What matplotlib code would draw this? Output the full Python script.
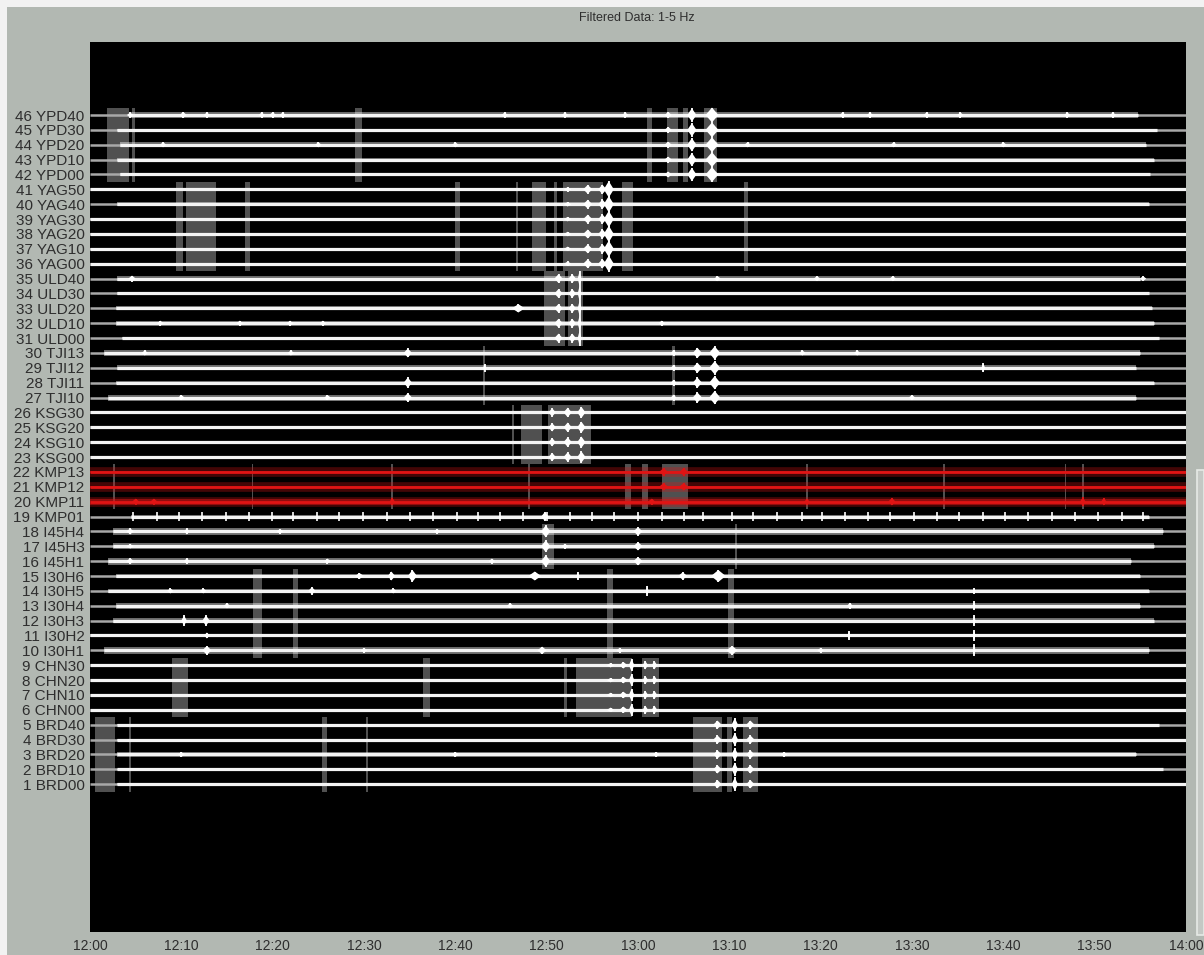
import matplotlib
matplotlib.use("Agg")
import matplotlib.pyplot as plt
from matplotlib.patches import Rectangle

plt.rcParams['font.family'] = ['Liberation Sans', 'DejaVu Sans']

# ---- station channels, numbered 1..46 from the bottom ----
station_names = [
    'BRD00', 'BRD10', 'BRD20', 'BRD30', 'BRD40',
    'CHN00', 'CHN10', 'CHN20', 'CHN30',
    'I30H1', 'I30H2', 'I30H3', 'I30H4', 'I30H5', 'I30H6',
    'I45H1', 'I45H3', 'I45H4',
    'KMP01', 'KMP11', 'KMP12', 'KMP13',
    'KSG00', 'KSG10', 'KSG20', 'KSG30',
    'TJI10', 'TJI11', 'TJI12', 'TJI13',
    'ULD00', 'ULD10', 'ULD20', 'ULD30', 'ULD40',
    'YAG00', 'YAG10', 'YAG20', 'YAG30', 'YAG40', 'YAG50',
    'YPD00', 'YPD10', 'YPD20', 'YPD30', 'YPD40',
]

# data availability window per channel (minutes after 12:00)
trace_start = [3.0, 3.0, 3.0, 3.0, 3.0,
               0.0, 0.0, 0.0, 0.0,
               1.5, 0.0, 2.5, 2.8, 2.0, 2.9,
               2.0, 2.5, 2.5,
               4.5, 0.0, 0.0, 0.0,
               0.0, 0.0, 0.0, 0.0,
               2.0, 2.8, 3.0, 1.5,
               3.5, 2.8, 2.9, 3.0, 3.0,
               0.0, 0.0, 0.0, 0.0, 3.0, 0.0,
               3.3, 3.0, 3.3, 3.0, 4.4]
trace_end = [120.0, 117.5, 114.5, 120.0, 117.0,
             120.0, 120.0, 120.0, 120.0,
             116.0, 120.0, 116.5, 115.0, 116.0, 115.0,
             114.0, 116.5, 117.5,
             116.0, 120.0, 120.0, 120.0,
             120.0, 120.0, 120.0, 120.0,
             114.5, 116.5, 114.5, 115.0,
             117.0, 116.5, 116.3, 116.0, 115.0,
             120.0, 120.0, 120.0, 120.0, 116.0, 120.0,
             116.1, 116.5, 115.6, 116.8, 114.7]

# background noise envelope (half-width, in trace spacings)
noise_width = [0.05, 0.05, 0.15, 0.07, 0.05,
               0.0, 0.0, 0.0, 0.0,
               0.22, 0.07, 0.17, 0.19, 0.12, 0.15,
               0.24, 0.20, 0.23,
               0.13, 0.20, 0.06, 0.06,
               0.0, 0.0, 0.0, 0.0,
               0.20, 0.12, 0.17, 0.22,
               0.09, 0.18, 0.13, 0.10, 0.17,
               0.0, 0.05, 0.05, 0.05, 0.13, 0.0,
               0.09, 0.12, 0.17, 0.07, 0.23]

red_traces = [20, 21, 22]

# station arrays: (lowest channel, highest channel)
station_groups = {
    'BRD': (1, 5), 'CHN': (6, 9), 'I30': (10, 15), 'I45': (16, 18),
    'KMP': (20, 22), 'KSG': (23, 26), 'TJI': (27, 30), 'ULD': (31, 35),
    'YAG': (36, 41), 'YPD': (42, 46),
}

# highlighted time windows per array (start, end) in minutes
gap_windows = {
    'YPD': [(1.9, 4.3), (4.6, 4.9), (29.0, 29.8), (61.0, 61.5), (63.2, 64.4),
            (64.9, 65.5), (67.2, 68.6)],
    'YAG': [(9.4, 10.2), (10.5, 13.8), (17.0, 17.5), (40.0, 40.5), (46.6, 46.9),
            (48.4, 49.9), (50.8, 51.1), (51.8, 56.2), (58.3, 59.5), (71.6, 72.0)],
    'ULD': [(49.7, 52.0), (52.3, 54.0)],
    'TJI': [(43.0, 43.3), (63.7, 64.0)],
    'KSG': [(46.2, 46.4), (47.2, 49.5), (50.1, 54.9)],
    'KMP': [(2.5, 2.7), (17.7, 17.9), (33.0, 33.2), (48.0, 48.2), (58.6, 59.2),
            (60.4, 61.1), (62.6, 65.5), (78.4, 78.6), (93.4, 93.6),
            (106.7, 106.9), (108.6, 108.8)],
    'I45': [(49.5, 50.8), (70.6, 70.8)],
    'I30': [(17.9, 18.8), (22.2, 22.8), (56.6, 57.3), (69.9, 70.5)],
    'CHN': [(9.0, 10.7), (36.5, 37.2), (51.9, 52.2), (53.2, 59.3), (60.4, 62.3)],
    'BRD': [(0.5, 2.7), (4.3, 4.5), (25.4, 26.0), (30.2, 30.4), (66.0, 69.2),
            (69.7, 70.3), (71.5, 73.1)],
}

# arrivals seen on every channel of an array: (minute, amplitude, half-duration)
group_arrivals = {
    'YPD': [(63.3, 0.20, 0.4), (65.9, 0.45, 0.5), (68.1, 0.50, 0.7)],
    'YAG': [(52.3, 0.15, 0.4), (54.5, 0.30, 0.5), (56.1, 0.32, 0.45), (56.8, 0.55, 0.55)],
    'ULD': [(51.3, 0.30, 0.45), (52.8, 0.30, 0.4), (53.6, 0.50, 0.2)],
    'TJI': [(63.9, 0.20, 0.3), (66.5, 0.35, 0.5), (68.4, 0.45, 0.6)],
    'KSG': [(50.6, 0.28, 0.4), (52.3, 0.32, 0.45), (53.8, 0.38, 0.45)],
    'I45': [(49.9, 0.40, 0.5), (60.0, 0.28, 0.5)],
    'CHN': [(57.0, 0.15, 0.4), (58.4, 0.22, 0.45), (59.3, 0.42, 0.3),
            (60.8, 0.28, 0.3), (61.8, 0.28, 0.3)],
    'BRD': [(68.7, 0.28, 0.45), (70.6, 0.45, 0.35), (72.3, 0.28, 0.45)],
}

# single-channel transients: (channel, minute, amplitude, half-duration)
trace_arrivals = [
    (46, 10.2, 0.20, 0.4), (46, 20.0, 0.18, 0.4),
    (35, 4.6, 0.20, 0.4), (33, 46.9, 0.28, 0.7),
    (30, 34.8, 0.30, 0.45), (28, 34.8, 0.35, 0.45), (27, 34.8, 0.30, 0.45),
    (29, 43.2, 0.25, 0.15), (29, 97.8, 0.30, 0.2),
    (22, 62.8, 0.25, 0.5), (22, 65.0, 0.25, 0.5),
    (21, 62.8, 0.25, 0.5), (21, 65.0, 0.25, 0.5),
    (20, 5.0, 0.20, 0.4), (20, 7.0, 0.20, 0.4), (20, 33.1, 0.25, 0.3),
    (20, 61.5, 0.20, 0.4), (20, 78.5, 0.20, 0.3), (20, 87.8, 0.25, 0.4),
    (20, 108.7, 0.30, 0.3), (20, 111.0, 0.25, 0.3),
    (19, 49.8, 0.30, 0.4),
    (18, 4.4, 0.20, 0.4), (18, 10.6, 0.20, 0.3), (17, 4.4, 0.15, 0.4),
    (16, 4.4, 0.20, 0.4), (16, 10.6, 0.20, 0.3),
    (15, 29.5, 0.20, 0.5), (15, 33.0, 0.30, 0.4), (15, 35.3, 0.40, 0.5),
    (15, 48.7, 0.30, 0.7), (15, 53.4, 0.25, 0.15), (15, 64.9, 0.25, 0.5),
    (15, 68.8, 0.40, 0.8),
    (14, 24.3, 0.25, 0.4), (14, 61.0, 0.35, 0.15), (14, 96.8, 0.20, 0.15),
    (13, 96.8, 0.30, 0.15), (13, 83.2, 0.20, 0.3),
    (12, 10.3, 0.35, 0.3), (12, 12.7, 0.35, 0.4), (12, 96.8, 0.35, 0.15),
    (11, 12.8, 0.20, 0.3), (11, 83.1, 0.30, 0.15), (11, 96.8, 0.35, 0.15),
    (10, 12.8, 0.30, 0.5), (10, 49.5, 0.25, 0.5), (10, 70.3, 0.30, 0.6),
    (10, 96.8, 0.40, 0.15),
]

# small bursts within the background noise: (channel, minute)
noise_bursts = [
    (46, 4.4), (46, 12.8), (46, 18.8), (46, 21.1), (46, 45.4), (46, 52.0),
    (46, 58.6), (46, 82.4), (46, 85.4), (46, 91.6), (46, 95.3), (46, 107.0),
    (46, 112.0),
    (44, 8.0), (44, 25.0), (44, 40.0), (44, 72.0), (44, 88.0), (44, 100.0),
    (35, 68.7), (35, 79.6), (35, 87.9), (35, 115.3),
    (32, 7.7), (32, 16.4), (32, 21.9), (32, 25.5), (32, 62.6),
    (30, 6.0), (30, 22.0), (30, 78.0), (30, 84.0),
    (27, 10.0), (27, 26.0), (27, 90.0),
    (18, 20.8), (18, 38.0), (17, 52.0), (16, 26.0), (16, 44.0),
    (14, 8.8), (14, 12.4), (14, 33.2),
    (13, 15.0), (13, 46.0), (10, 30.0), (10, 58.0), (10, 80.0),
    (3, 10.0), (3, 40.0), (3, 62.0), (3, 76.0),
]

# periodic pulses on KMP01 (minutes)
kmp01_pulses = [4.7, 7.3, 9.7, 12.3, 14.9, 17.4, 19.9, 22.2, 24.9, 27.3, 29.9,
                32.5, 35.0, 37.6, 40.2, 42.5, 44.9, 47.4, 50.0, 52.6, 55.0, 57.4,
                60.0, 62.6, 65.0, 67.1, 70.3, 72.6, 75.2, 78.0, 80.1, 82.7, 85.2,
                87.6, 90.2, 92.7, 95.2, 97.8, 100.2, 102.7, 105.3, 107.9, 110.4,
                113.0, 115.3]

tick_minutes = [0, 10, 20, 30, 40, 50, 60, 70, 80, 90, 100, 110, 120]
tick_labels = ['12:00', '12:10', '12:20', '12:30', '12:40', '12:50', '13:00',
               '13:10', '13:20', '13:30', '13:40', '13:50', '14:00']

BG = '#b2b8b2'
TXT = '#2e2e2e'
WHITE = '#f4f4f4'
RED = '#e01414'

W, H = 1204, 955
fig = plt.figure(figsize=(W / 100, H / 100), dpi=100, facecolor=BG)

# window frame pieces (behind the axes)
fig.patches.append(Rectangle((1197 / W, 20 / H), 7 / W, (H - 470 - 20) / H,
                             transform=fig.transFigure, facecolor='#c4c8c4',
                             edgecolor='#e6eae6', lw=1.2, zorder=0))
fig.patches.append(Rectangle((0, 0), 7 / W, 1, transform=fig.transFigure,
                             facecolor='#f2f2f2', edgecolor='none', zorder=0))
fig.patches.append(Rectangle((0, 1 - 7 / H), 1, 7 / H, transform=fig.transFigure,
                             facecolor='#f2f2f2', edgecolor='none', zorder=0))

ax = fig.add_axes([90 / W, 23 / H, 1096 / W, 890 / H])
ax.set_facecolor('black')
ax.set_xlim(0, 120)
ax.set_ylim(-8.94, 50.91)
for s in ax.spines.values():
    s.set_visible(False)

# highlighted windows
for grp, wins in gap_windows.items():
    lo, hi = station_groups[grp]
    for t0, t1 in wins:
        ax.add_patch(Rectangle((t0, lo - 0.5), t1 - t0, hi - lo + 1,
                               facecolor='#505050', edgecolor='none', zorder=1))

channels = list(range(1, len(station_names) + 1))
for ch, s, e, w in zip(channels, trace_start, trace_end, noise_width):
    if ch in red_traces:
        ax.hlines(ch, 0, 120, color=RED, lw=7, alpha=0.3, zorder=2)
        ax.hlines(ch, 0, 120, color=RED, lw=2.0, zorder=4)
        if w > 0:
            ax.fill_between([s, e], [ch - w] * 2, [ch + w] * 2, color=RED,
                            alpha=0.5, lw=0, zorder=3)
        continue
    ax.hlines(ch, 0, 120, color='#a8a8a8', lw=1.8, zorder=2)
    if w > 0:
        ax.fill_between([s, e], [ch - w] * 2, [ch + w] * 2, color='white',
                        alpha=0.42, lw=0, zorder=3)
    ax.hlines(ch, s, e, color=WHITE, lw=2.3, zorder=4)


def draw_arrival(ch, t, amp, hw):
    col = RED if ch in red_traces else 'white'
    ax.fill([t - hw, t - hw * 0.4, t, t + hw * 0.4, t + hw, t + hw * 0.4, t, t - hw * 0.4],
            [ch, ch + amp * 0.6, ch + amp, ch + amp * 0.6, ch,
             ch - amp * 0.6, ch - amp, ch - amp * 0.6],
            color=col, lw=0, zorder=5)
    ax.vlines(t, ch - amp, ch + amp, color=col, lw=1.3, zorder=5)


for grp, arrs in group_arrivals.items():
    lo, hi = station_groups[grp]
    for ch in range(lo, hi + 1):
        for t, a, hw in arrs:
            draw_arrival(ch, t, a, hw)

for ch, t, a, hw in trace_arrivals:
    draw_arrival(ch, t, a, hw)

for ch, t in noise_bursts:
    draw_arrival(ch, t, 0.17, 0.35)

ax.vlines(kmp01_pulses, 19 - 0.3, 19 + 0.3, color='white', lw=1.2, zorder=5)

ax.set_yticks(channels)
ax.set_yticklabels([f'{n} {name}' for n, name in zip(channels, station_names)],
                   fontsize=11, color=TXT)
ax.set_xticks(tick_minutes)
ax.set_xticklabels(tick_labels, fontsize=10, color=TXT)
ax.tick_params(axis='y', length=0, pad=4)
ax.tick_params(axis='x', length=0, pad=5)

fig.text(637 / W, 1 - 18 / H, 'Filtered Data: 1-5 Hz', ha='center', va='center',
         fontsize=9, color=TXT)

fig.savefig('out.png', dpi=100, facecolor=BG)
